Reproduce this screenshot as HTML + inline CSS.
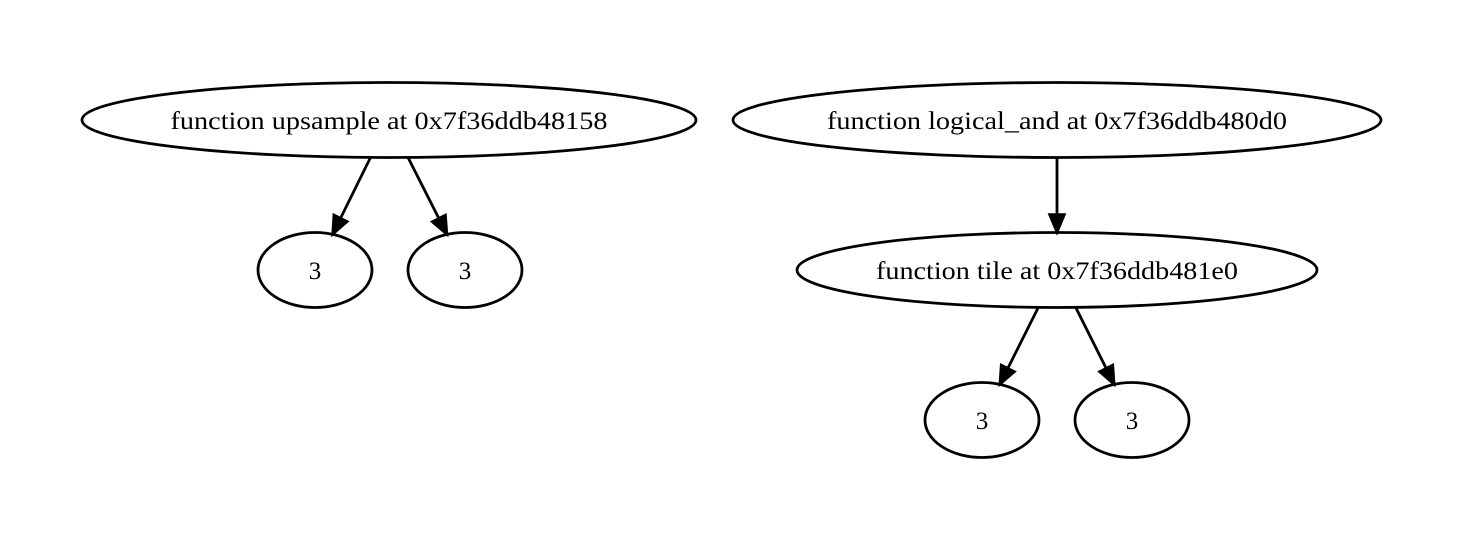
<!DOCTYPE html>
<html><head><meta charset="utf-8"><style>
html,body{margin:0;padding:0;background:#fff;}
svg{display:block;}
text{font-family:"Liberation Serif",serif;font-size:25px;fill:#000;}
</style></head><body>
<svg id="g" width="1463" height="542" viewBox="0 0 1463 542">
</svg>
<script>
const nodeLabels = ["function upsample at 0x7f36ddb48158","3","3","function logical_and at 0x7f36ddb480d0","function tile at 0x7f36ddb481e0","3","3"];
const nodeNames = ["node-upsample","node-upsample-arg-1","node-upsample-arg-2","node-logical-and","node-tile","node-tile-arg-1","node-tile-arg-2"];
const nodeCx = [389,315,465,1057,1057,982,1132];
const nodeCy = [120,270,270,120,270,420,420];
const nodeRx = [307,57,57,324,260,57,57];
const nodeTextW = [437,0,0,460,362,0,0];
const edgeFrom = [0,0,3,4,4];
const edgeTo = [1,2,4,5,6];
const ns="http://www.w3.org/2000/svg";
const svg=document.getElementById('g');
const RY=37.5;
function mk(t,a){const e=document.createElementNS(ns,t);for(const k in a)e.setAttribute(k,a[k]);return e;}
edgeFrom.forEach((f,i)=>{
  const t=edgeTo[i];
  const x1=nodeCx[f],y1=nodeCy[f],x2=nodeCx[t],y2=nodeCy[t];
  const dx=x2-x1,dy=y2-y1;
  function bnd(rx,sx,sy){return 1/Math.sqrt((sx*sx)/(rx*rx)+(sy*sy)/(RY*RY));}
  const s1=bnd(nodeRx[f],dx,dy), s2=bnd(nodeRx[t],dx,dy);
  const ax=x1+dx*s1, ay=y1+dy*s1;
  const bx=x2-dx*s2, by=y2-dy*s2;
  const L=Math.hypot(bx-ax,by-ay), ux=(bx-ax)/L, uy=(by-ay)/L;
  const hx=bx-ux*18, hy=by-uy*18;
  const g=mk('g',{});
  
  
  g.appendChild(mk('line',{x1:ax,y1:ay,x2:hx,y2:hy,stroke:'#000','stroke-width':2.8}));
  const px=-uy,py=ux;
  g.appendChild(mk('polygon',{points:`${bx},${by} ${hx+px*7.5},${hy+py*7.5} ${hx-px*7.5},${hy-py*7.5}`,fill:'#000',stroke:'#000','stroke-width':2.5}));
  svg.appendChild(g);
});
nodeLabels.forEach((lab,i)=>{
  const g=mk('g',{});
  
  
  g.appendChild(mk('ellipse',{cx:nodeCx[i],cy:nodeCy[i],rx:nodeRx[i],ry:RY,fill:'none',stroke:'#000','stroke-width':2.8}));
  const t=mk('text',{x:nodeCx[i],y:nodeCy[i]+9,'text-anchor':'middle'});
  if(nodeTextW[i]){t.setAttribute('textLength',nodeTextW[i]);t.setAttribute('lengthAdjust','spacingAndGlyphs');}
  t.textContent=lab;
  g.appendChild(t);
  svg.appendChild(g);
});
</script>
</body></html>
